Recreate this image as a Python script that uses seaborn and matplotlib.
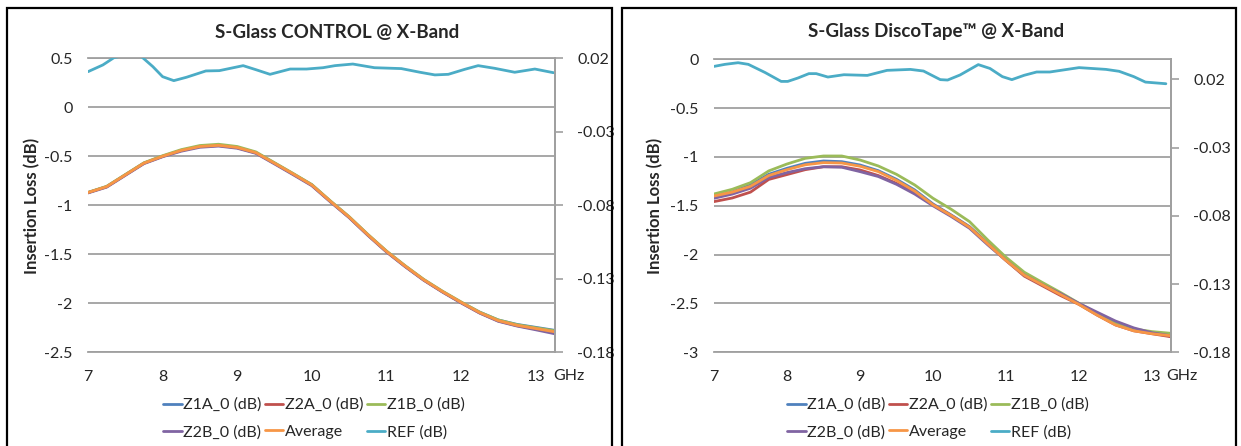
import matplotlib
matplotlib.use("Agg")
import matplotlib.pyplot as plt
import seaborn as sns
import pandas as pd
from matplotlib.patches import Rectangle
from matplotlib.lines import Line2D

# frequency grid (GHz) for the insertion loss curves
freq = [7.0, 7.25, 7.5, 7.75, 8.0, 8.25, 8.5, 8.75, 9.0, 9.25, 9.5, 9.75, 10.0,
        10.25, 10.5, 10.75, 11.0, 11.25, 11.5, 11.75, 12.0, 12.25, 12.5, 12.75, 13.0, 13.25]

# --- S-Glass CONTROL ---
ctrl_z1a = [-0.87, -0.81, -0.69, -0.57, -0.50, -0.44, -0.40, -0.388, -0.41, -0.462, -0.57, -0.68, -0.79,
            -0.96, -1.12, -1.30, -1.47, -1.62, -1.76, -1.88, -1.99, -2.09, -2.17, -2.215, -2.245, -2.275]
ctrl_z2a = [-0.87, -0.81, -0.69, -0.57, -0.50, -0.44, -0.40, -0.39, -0.412, -0.465, -0.572, -0.682, -0.795,
            -0.962, -1.122, -1.302, -1.472, -1.622, -1.762, -1.882, -1.993, -2.098, -2.18, -2.228, -2.262, -2.30]
ctrl_z1b = [-0.868, -0.806, -0.686, -0.566, -0.494, -0.432, -0.39, -0.377, -0.40, -0.455, -0.565, -0.675, -0.788,
            -0.955, -1.115, -1.295, -1.465, -1.615, -1.755, -1.875, -1.985, -2.09, -2.17, -2.218, -2.25, -2.28]
ctrl_z2b = [-0.874, -0.815, -0.695, -0.575, -0.505, -0.448, -0.408, -0.396, -0.418, -0.47, -0.578, -0.688, -0.80,
            -0.966, -1.126, -1.306, -1.476, -1.626, -1.765, -1.885, -1.996, -2.10, -2.184, -2.232, -2.27, -2.31]
ctrl_avg = [-0.87, -0.81, -0.69, -0.57, -0.50, -0.44, -0.40, -0.388, -0.41, -0.463, -0.571, -0.68, -0.793,
            -0.96, -1.12, -1.30, -1.47, -1.62, -1.76, -1.88, -1.99, -2.095, -2.177, -2.225, -2.257, -2.29]
ctrl_ref_f = [7.0, 7.2, 7.35, 7.55, 7.72, 7.87, 8.0, 8.15, 8.32, 8.58, 8.76, 9.08, 9.26, 9.44, 9.71,
              9.93, 10.15, 10.31, 10.55, 10.84, 11.2, 11.45, 11.65, 11.83, 12.05, 12.23, 12.45, 12.72, 12.99, 13.24]
ctrl_ref = [0.0109, 0.0155, 0.0205, 0.0225, 0.021, 0.0143, 0.0075, 0.0048, 0.0071, 0.0114, 0.0116, 0.015,
            0.0121, 0.0091, 0.0127, 0.0127, 0.0136, 0.015, 0.0161, 0.0136, 0.013, 0.0105, 0.0087, 0.0091,
            0.0125, 0.015, 0.0132, 0.0105, 0.0127, 0.0102]

# --- S-Glass DiscoTape ---
disco_z1a = [-1.406, -1.358, -1.287, -1.177, -1.116, -1.065, -1.041, -1.048, -1.082, -1.14, -1.229, -1.338, -1.481,
             -1.594, -1.713, -1.884, -2.055, -2.201, -2.304, -2.403, -2.505, -2.611, -2.71, -2.771, -2.805, -2.833]
disco_z2a = [-1.457, -1.42, -1.36, -1.23, -1.18, -1.13, -1.10, -1.10, -1.133, -1.19, -1.27, -1.37, -1.49,
             -1.60, -1.72, -1.89, -2.06, -2.22, -2.32, -2.42, -2.51, -2.62, -2.72, -2.78, -2.81, -2.84]
disco_z1b = [-1.379, -1.331, -1.263, -1.143, -1.072, -1.014, -0.99, -0.99, -1.031, -1.092, -1.178, -1.287, -1.423,
             -1.536, -1.662, -1.85, -2.027, -2.18, -2.286, -2.389, -2.498, -2.601, -2.703, -2.761, -2.788, -2.805]
disco_z2b = [-1.423, -1.38, -1.32, -1.21, -1.16, -1.12, -1.10, -1.105, -1.15, -1.20, -1.28, -1.38, -1.50,
             -1.61, -1.73, -1.90, -2.06, -2.21, -2.31, -2.40, -2.50, -2.59, -2.68, -2.75, -2.80, -2.83]
disco_avg = [-1.40, -1.36, -1.30, -1.19, -1.13, -1.08, -1.058, -1.062, -1.095, -1.15, -1.24, -1.35, -1.49,
             -1.60, -1.72, -1.89, -2.06, -2.21, -2.31, -2.41, -2.51, -2.62, -2.72, -2.78, -2.81, -2.83]
disco_ref_f = [7.0, 7.15, 7.33, 7.47, 7.7, 7.92, 8.01, 8.15, 8.3, 8.4, 8.56, 8.78, 9.1, 9.37, 9.69, 9.87,
               10.1, 10.2, 10.37, 10.62, 10.78, 10.95, 11.08, 11.25, 11.42, 11.6, 12.0, 12.37, 12.55, 12.75, 12.91, 13.19]
disco_ref = [0.0295, 0.031, 0.0322, 0.031, 0.025, 0.0185, 0.0185, 0.021, 0.0242, 0.0242, 0.0217, 0.0234,
             0.0229, 0.0266, 0.0273, 0.0261, 0.0198, 0.0195, 0.0232, 0.0308, 0.028, 0.022, 0.0198, 0.023,
             0.0254, 0.0254, 0.0286, 0.0273, 0.0259, 0.022, 0.018, 0.0168]

series_names = ["Z1A_0 (dB)", "Z2A_0 (dB)", "Z1B_0 (dB)", "Z2B_0 (dB)", "Average"]
ref_name = "REF (dB)"
colors = {"Z1A_0 (dB)": "#4F81BD", "Z2A_0 (dB)": "#C0504D", "Z1B_0 (dB)": "#9BBB59",
          "Z2B_0 (dB)": "#8064A2", "Average": "#F79646", "REF (dB)": "#4BACC6"}

x_ticks = [7, 8, 9, 10, 11, 12, 13]
ctrl_yticks = [0.5, 0, -0.5, -1, -1.5, -2, -2.5]
ctrl_ylabels = ["0.5", "0", "-0.5", "-1", "-1.5", "-2", "-2.5"]
disco_yticks = [0, -0.5, -1, -1.5, -2, -2.5, -3]
disco_ylabels = ["0", "-0.5", "-1", "-1.5", "-2", "-2.5", "-3"]
ref_ticks = [0.02, -0.03, -0.08, -0.13, -0.18]
ref_labels = ["0.02", "-0.03", "-0.08", "-0.13", "-0.18"]

sns.set_style("white")
plt.rcParams["font.family"] = ["Lato", "DejaVu Sans"]

W, H = 1241, 446
fig = plt.figure(figsize=(W / 100, H / 100), dpi=100)

grid_c = "#a0a0a0"
tick_fs = 11.5


def make_panel(rect, title, title_xy, main_series, ref_f, ref_v, yticks, ylabels, ylim, ref_lim,
               ylabel_x, ghz_x, legend_x):
    ax = fig.add_axes(rect)
    df = pd.DataFrame({"freq": freq * len(series_names),
                       "loss": sum(main_series, []),
                       "series": [n for n in series_names for _ in freq]})
    sns.lineplot(data=df, x="freq", y="loss", hue="series", hue_order=series_names,
                 palette=colors, estimator=None, linewidth=2, legend=False, ax=ax)
    ax.set_xlim(7, 13.26)
    ax.set_ylim(*ylim)
    ax.set_yticks(yticks)
    ax.set_yticklabels(ylabels, fontsize=tick_fs)
    ax.set_xticks(x_ticks)
    ax.set_xticklabels([str(t) for t in x_ticks], fontsize=tick_fs)
    ax.tick_params(axis="both", length=0)
    ax.tick_params(axis="y", pad=11)
    ax.tick_params(axis="x", pad=13)
    ax.set_xlabel("")
    ax.set_ylabel("")
    ax.grid(axis="y", color=grid_c, linewidth=1.3)
    ax.grid(axis="x", visible=False)
    ax.spines["left"].set_visible(False)
    for s in ["top", "bottom", "right"]:
        ax.spines[s].set_color(grid_c)
        ax.spines[s].set_linewidth(1.3)

    ax2 = ax.twinx()
    sns.lineplot(x=ref_f, y=ref_v, color=colors[ref_name], linewidth=2, ax=ax2, estimator=None)
    ax2.set_ylim(*ref_lim)
    ax2.set_yticks(ref_ticks)
    ax2.set_yticklabels(ref_labels, fontsize=tick_fs)
    ax2.tick_params(axis="y", length=6, width=1.2, color=grid_c, direction="out", pad=10)
    for s in ["top", "bottom", "left"]:
        ax2.spines[s].set_visible(False)
    ax2.spines["right"].set_color(grid_c)
    ax2.spines["right"].set_linewidth(1.3)
    ax2.grid(False)

    fig.text(title_xy[0] / W, 1 - title_xy[1] / H, title, ha="center", va="center",
             fontsize=13.5, fontweight="bold")
    fig.text(ylabel_x / W, 1 - 206 / H, "Insertion Loss (dB)", rotation=90, ha="center",
             va="center", fontsize=12, fontweight="bold")
    fig.text(ghz_x / W, 1 - 376 / H, "GHz", ha="left", va="center", fontsize=tick_fs)

    order = ["Z1A_0 (dB)", "Z2B_0 (dB)", "Z2A_0 (dB)", "Average", "Z1B_0 (dB)", "REF (dB)"]
    handles = [Line2D([], [], color=colors[n], linewidth=2) for n in order]
    fig.legend(handles, order, ncol=3, loc="center", bbox_to_anchor=(legend_x / W, 1 - 418.5 / H),
               bbox_transform=fig.transFigure, frameon=False, fontsize=11.5, handlelength=1.15,
               handletextpad=0.1, columnspacing=0.2, labelspacing=0.8, borderpad=0)
    return ax, ax2


make_panel([88 / W, (H - 352.3) / H, (555 - 88) / W, 294 / H],
           "S-Glass CONTROL @ X-Band", (337, 33),
           [ctrl_z1a, ctrl_z2a, ctrl_z1b, ctrl_z2b, ctrl_avg], ctrl_ref_f, ctrl_ref,
           ctrl_yticks, ctrl_ylabels, (-2.5, 0.5), (-0.18, 0.02), 32, 553, 314)

make_panel([714 / W, (H - 352.3) / H, (1171 - 714) / W, 293 / H],
           "S-Glass DiscoTape\u2122 @ X-Band", (936, 31),
           [disco_z1a, disco_z2a, disco_z1b, disco_z2b, disco_avg], disco_ref_f, disco_ref,
           disco_yticks, disco_ylabels, (-3, 0), (-0.18, 0.0347), 655, 1166, 938)

# chart area borders
for x0, x1 in [(7, 612), (622, 1236)]:
    fig.add_artist(Rectangle((x0 / W, -0.1), (x1 - x0) / W, (H - 8) / H + 0.1,
                             transform=fig.transFigure, fill=False, edgecolor="black",
                             linewidth=1.6, clip_on=False))

fig.savefig("out.png", dpi=100)
